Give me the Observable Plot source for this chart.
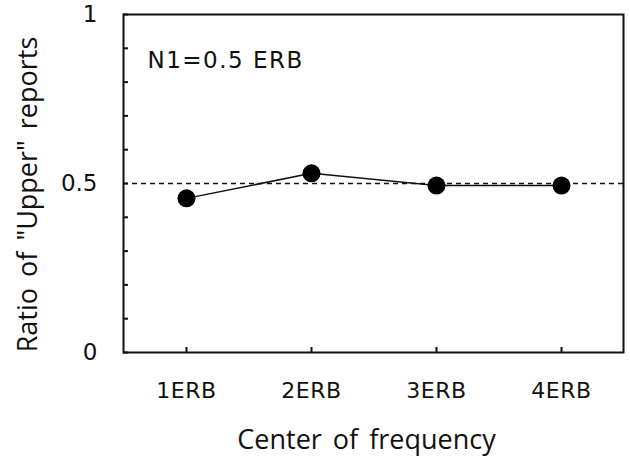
<!DOCTYPE html>
<html>
<head>
<meta charset="utf-8">
<script src="https://cdn.jsdelivr.net/npm/d3@7"></script>
<script src="https://cdn.jsdelivr.net/npm/@observablehq/plot@0.6"></script>
<style>
  html, body { margin: 0; padding: 0; background: #fff; }
  svg { display: block; }
  .annot text { font-size: 23px; letter-spacing: 1.5px; }
  .xlabels text { font-size: 22px; letter-spacing: 0.5px; }
  .ylabels text { font-size: 23px; }
  .titles text { font-size: 27px; word-spacing: 4px; }
</style>
</head>
<body>
<div id="chart"></div>
<script>
const categories = ["1ERB", "2ERB", "3ERB", "4ERB"];
const ratios = [0.456, 0.530, 0.494, 0.494];
const yTicksMinor = [0, 0.1, 0.2, 0.3, 0.4, 0.5, 0.6, 0.7, 0.8, 0.9, 1];
const yTickLabels = [0, 0.5, 1];
const chanceLevel = 0.5;
const annotation = "N1=0.5 ERB";
const xTitle = "Center of frequency";
const yTitle = "Ratio of \"Upper\" reports";

const data = categories.map((c, i) => ({cat: c, value: ratios[i]}));
const tickFont = "'DejaVu Sans', sans-serif";
const titleFont = "'Open Sans', sans-serif";
const ink = "#111";

const chart = Plot.plot({
  width: 630,
  height: 459,
  marginLeft: 123,
  marginRight: 7,
  marginTop: 14,
  marginBottom: 107,
  style: {fontFamily: tickFont, background: "#fff", color: ink},
  x: {type: "point", domain: categories, padding: 0.5, label: null},
  y: {domain: [0, 1], label: null},
  marks: [
    Plot.ruleY([chanceLevel], {stroke: ink, strokeWidth: 1.5, strokeDasharray: "5,4"}),
    Plot.frame({stroke: ink, strokeWidth: 2}),
    Plot.axisY({ticks: yTicksMinor, tickSize: -5, tickFormat: () => "", strokeWidth: 2, stroke: ink, label: null}),
    Plot.axisY({ticks: yTickLabels, tickSize: 0, tickPadding: 26, tickFormat: d => String(d), fontSize: 23, fill: ink, label: null, className: "ylabels"}),
    Plot.axisX({ticks: categories, tickSize: -5, tickFormat: () => "", strokeWidth: 2, stroke: ink, label: null}),
    Plot.axisX({ticks: categories, tickSize: 0, tickPadding: 30, fontSize: 22, fill: ink, label: null, className: "xlabels"}),
    Plot.line(data, {x: "cat", y: "value", stroke: ink, strokeWidth: 1.5}),
    Plot.dot(data, {x: "cat", y: "value", r: 9, fill: "#000", stroke: "none"}),
    Plot.text([annotation], {frameAnchor: "top-left", dx: 24, dy: 46, textAnchor: "start", lineAnchor: "middle", fontSize: 23, fill: ink, className: "annot"}),
    Plot.text([xTitle], {frameAnchor: "bottom", dx: -7, dy: 88, textAnchor: "middle", lineAnchor: "middle", fontSize: 27, fill: ink, fontFamily: titleFont, className: "titles"}),
    Plot.text([yTitle], {frameAnchor: "left", rotate: -90, dx: -95, dy: 11, textAnchor: "middle", lineAnchor: "middle", fontSize: 27, fill: ink, fontFamily: titleFont, className: "titles"})
  ]
});
document.getElementById("chart").appendChild(chart);
</script>
</body>
</html>
